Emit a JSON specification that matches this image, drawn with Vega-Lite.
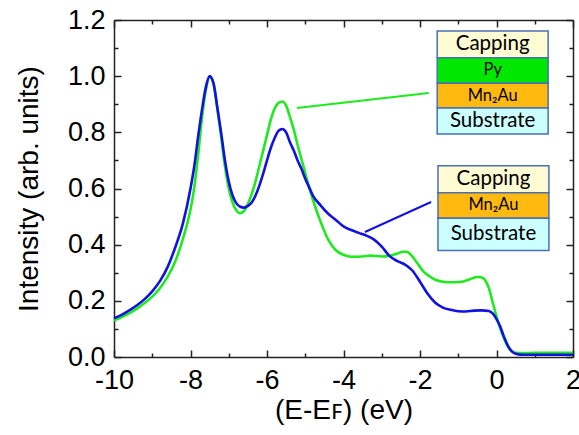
{
  "$schema": "https://vega.github.io/schema/vega-lite/v6.json",
  "width": 459,
  "height": 337,
  "autosize": {"type": "none"},
  "padding": {"left": 114, "top": 20, "right": 6, "bottom": 78},
  "background": "white",
  "config": {
    "view": {"stroke": null},
    "axis": {
      "labelFont": "Liberation Sans",
      "titleFont": "Liberation Sans",
      "labelFontSize": 27,
      "titleFontSize": 28,
      "titleFontWeight": "normal",
      "labelColor": "black",
      "titleColor": "black",
      "domainColor": "#222222",
      "tickColor": "#222222",
      "domainWidth": 1.5,
      "tickWidth": 1.5,
      "grid": false
    }
  },
  "datasets": {
    "spectra": [
      {"s": "green", "x": -10.0, "y": 0.130}, {"s": "green", "x": -9.8, "y": 0.142}, {"s": "green", "x": -9.6, "y": 0.155},
      {"s": "green", "x": -9.4, "y": 0.172}, {"s": "green", "x": -9.2, "y": 0.192}, {"s": "green", "x": -9.0, "y": 0.215},
      {"s": "green", "x": -8.8, "y": 0.245}, {"s": "green", "x": -8.6, "y": 0.285}, {"s": "green", "x": -8.4, "y": 0.34},
      {"s": "green", "x": -8.2, "y": 0.42}, {"s": "green", "x": -8.0, "y": 0.525}, {"s": "green", "x": -7.9, "y": 0.605},
      {"s": "green", "x": -7.8, "y": 0.72}, {"s": "green", "x": -7.7, "y": 0.85}, {"s": "green", "x": -7.6, "y": 0.95},
      {"s": "green", "x": -7.5, "y": 0.997}, {"s": "green", "x": -7.4, "y": 0.975}, {"s": "green", "x": -7.3, "y": 0.885},
      {"s": "green", "x": -7.2, "y": 0.785}, {"s": "green", "x": -7.1, "y": 0.68}, {"s": "green", "x": -7.0, "y": 0.6},
      {"s": "green", "x": -6.9, "y": 0.55}, {"s": "green", "x": -6.8, "y": 0.522}, {"s": "green", "x": -6.7, "y": 0.512},
      {"s": "green", "x": -6.6, "y": 0.52}, {"s": "green", "x": -6.5, "y": 0.545}, {"s": "green", "x": -6.4, "y": 0.58},
      {"s": "green", "x": -6.3, "y": 0.625}, {"s": "green", "x": -6.2, "y": 0.68}, {"s": "green", "x": -6.1, "y": 0.735},
      {"s": "green", "x": -6.0, "y": 0.79}, {"s": "green", "x": -5.9, "y": 0.845}, {"s": "green", "x": -5.8, "y": 0.885},
      {"s": "green", "x": -5.7, "y": 0.905}, {"s": "green", "x": -5.6, "y": 0.91}, {"s": "green", "x": -5.5, "y": 0.895},
      {"s": "green", "x": -5.4, "y": 0.855}, {"s": "green", "x": -5.3, "y": 0.81}, {"s": "green", "x": -5.2, "y": 0.755},
      {"s": "green", "x": -5.1, "y": 0.705}, {"s": "green", "x": -5.0, "y": 0.655}, {"s": "green", "x": -4.9, "y": 0.605},
      {"s": "green", "x": -4.8, "y": 0.56}, {"s": "green", "x": -4.6, "y": 0.482}, {"s": "green", "x": -4.4, "y": 0.418},
      {"s": "green", "x": -4.2, "y": 0.38}, {"s": "green", "x": -4.0, "y": 0.364}, {"s": "green", "x": -3.8, "y": 0.357},
      {"s": "green", "x": -3.5, "y": 0.358}, {"s": "green", "x": -3.3, "y": 0.361}, {"s": "green", "x": -3.0, "y": 0.358},
      {"s": "green", "x": -2.8, "y": 0.36}, {"s": "green", "x": -2.6, "y": 0.368}, {"s": "green", "x": -2.45, "y": 0.375},
      {"s": "green", "x": -2.35, "y": 0.375}, {"s": "green", "x": -2.2, "y": 0.358}, {"s": "green", "x": -2.05, "y": 0.33},
      {"s": "green", "x": -1.9, "y": 0.303}, {"s": "green", "x": -1.8, "y": 0.292}, {"s": "green", "x": -1.6, "y": 0.275},
      {"s": "green", "x": -1.4, "y": 0.268}, {"s": "green", "x": -1.2, "y": 0.266}, {"s": "green", "x": -0.9, "y": 0.268},
      {"s": "green", "x": -0.7, "y": 0.277}, {"s": "green", "x": -0.5, "y": 0.285}, {"s": "green", "x": -0.4, "y": 0.284},
      {"s": "green", "x": -0.3, "y": 0.274}, {"s": "green", "x": -0.2, "y": 0.245}, {"s": "green", "x": -0.1, "y": 0.195},
      {"s": "green", "x": 0.0, "y": 0.145}, {"s": "green", "x": 0.1, "y": 0.1}, {"s": "green", "x": 0.2, "y": 0.065},
      {"s": "green", "x": 0.3, "y": 0.036}, {"s": "green", "x": 0.4, "y": 0.021}, {"s": "green", "x": 0.5, "y": 0.015},
      {"s": "green", "x": 0.7, "y": 0.014}, {"s": "green", "x": 1.0, "y": 0.015}, {"s": "green", "x": 2.0, "y": 0.015},

      {"s": "blue", "x": -10.0, "y": 0.138}, {"s": "blue", "x": -9.8, "y": 0.150}, {"s": "blue", "x": -9.6, "y": 0.166},
      {"s": "blue", "x": -9.4, "y": 0.184}, {"s": "blue", "x": -9.2, "y": 0.206}, {"s": "blue", "x": -9.0, "y": 0.234},
      {"s": "blue", "x": -8.8, "y": 0.27}, {"s": "blue", "x": -8.6, "y": 0.32}, {"s": "blue", "x": -8.4, "y": 0.39},
      {"s": "blue", "x": -8.2, "y": 0.475}, {"s": "blue", "x": -8.0, "y": 0.6}, {"s": "blue", "x": -7.9, "y": 0.68},
      {"s": "blue", "x": -7.8, "y": 0.785}, {"s": "blue", "x": -7.7, "y": 0.88}, {"s": "blue", "x": -7.6, "y": 0.96},
      {"s": "blue", "x": -7.5, "y": 1.0}, {"s": "blue", "x": -7.4, "y": 0.975}, {"s": "blue", "x": -7.3, "y": 0.89},
      {"s": "blue", "x": -7.2, "y": 0.8}, {"s": "blue", "x": -7.1, "y": 0.7}, {"s": "blue", "x": -7.0, "y": 0.625},
      {"s": "blue", "x": -6.9, "y": 0.575}, {"s": "blue", "x": -6.8, "y": 0.547}, {"s": "blue", "x": -6.7, "y": 0.535},
      {"s": "blue", "x": -6.6, "y": 0.532}, {"s": "blue", "x": -6.5, "y": 0.538}, {"s": "blue", "x": -6.4, "y": 0.55},
      {"s": "blue", "x": -6.3, "y": 0.575}, {"s": "blue", "x": -6.2, "y": 0.61}, {"s": "blue", "x": -6.1, "y": 0.653},
      {"s": "blue", "x": -6.0, "y": 0.7}, {"s": "blue", "x": -5.9, "y": 0.745}, {"s": "blue", "x": -5.8, "y": 0.78},
      {"s": "blue", "x": -5.7, "y": 0.805}, {"s": "blue", "x": -5.6, "y": 0.812}, {"s": "blue", "x": -5.5, "y": 0.8},
      {"s": "blue", "x": -5.4, "y": 0.765}, {"s": "blue", "x": -5.3, "y": 0.735}, {"s": "blue", "x": -5.2, "y": 0.7},
      {"s": "blue", "x": -5.1, "y": 0.67}, {"s": "blue", "x": -5.0, "y": 0.635}, {"s": "blue", "x": -4.9, "y": 0.605},
      {"s": "blue", "x": -4.8, "y": 0.575}, {"s": "blue", "x": -4.6, "y": 0.54}, {"s": "blue", "x": -4.4, "y": 0.51},
      {"s": "blue", "x": -4.2, "y": 0.488}, {"s": "blue", "x": -4.0, "y": 0.465}, {"s": "blue", "x": -3.8, "y": 0.452},
      {"s": "blue", "x": -3.6, "y": 0.442}, {"s": "blue", "x": -3.4, "y": 0.432}, {"s": "blue", "x": -3.2, "y": 0.418},
      {"s": "blue", "x": -3.0, "y": 0.393}, {"s": "blue", "x": -2.8, "y": 0.36}, {"s": "blue", "x": -2.6, "y": 0.342},
      {"s": "blue", "x": -2.4, "y": 0.33}, {"s": "blue", "x": -2.2, "y": 0.308}, {"s": "blue", "x": -2.0, "y": 0.268},
      {"s": "blue", "x": -1.8, "y": 0.225}, {"s": "blue", "x": -1.6, "y": 0.193}, {"s": "blue", "x": -1.4, "y": 0.176},
      {"s": "blue", "x": -1.2, "y": 0.168}, {"s": "blue", "x": -1.0, "y": 0.163}, {"s": "blue", "x": -0.8, "y": 0.162},
      {"s": "blue", "x": -0.6, "y": 0.165}, {"s": "blue", "x": -0.4, "y": 0.166}, {"s": "blue", "x": -0.2, "y": 0.164},
      {"s": "blue", "x": -0.1, "y": 0.155}, {"s": "blue", "x": 0.0, "y": 0.135}, {"s": "blue", "x": 0.1, "y": 0.108},
      {"s": "blue", "x": 0.2, "y": 0.07}, {"s": "blue", "x": 0.3, "y": 0.04}, {"s": "blue", "x": 0.4, "y": 0.02},
      {"s": "blue", "x": 0.5, "y": 0.012}, {"s": "blue", "x": 0.7, "y": 0.008}, {"s": "blue", "x": 1.0, "y": 0.008},
      {"s": "blue", "x": 2.0, "y": 0.008}
    ],
    "stack": [
      {"box": 1, "layer": "Capping", "label": "Capping", "x": -1.55, "x2": 1.35, "y": 1.066, "y2": 1.161},
      {"box": 1, "layer": "Py", "label": "Py", "x": -1.55, "x2": 1.35, "y": 0.975, "y2": 1.066},
      {"box": 1, "layer": "Mn2Au", "label": "Mn₂Au", "x": -1.55, "x2": 1.35, "y": 0.887, "y2": 0.975},
      {"box": 1, "layer": "Substrate", "label": "Substrate", "x": -1.55, "x2": 1.35, "y": 0.794, "y2": 0.887},
      {"box": 2, "layer": "Capping", "label": "Capping", "x": -1.53, "x2": 1.37, "y": 0.585, "y2": 0.681},
      {"box": 2, "layer": "Mn2Au", "label": "Mn₂Au", "x": -1.53, "x2": 1.37, "y": 0.494, "y2": 0.585},
      {"box": 2, "layer": "Substrate", "label": "Substrate", "x": -1.53, "x2": 1.37, "y": 0.379, "y2": 0.494}
    ],
    "leaders": [
      {"s": "green", "x": -5.22, "y": 0.887, "x2": -1.77, "y2": 0.94},
      {"s": "blue", "x": -3.44, "y": 0.445, "x2": -1.71, "y2": 0.552}
    ]
  },
  "layer": [
    {
      "layer": [
        {
          "data": {"name": "spectra"},
          "transform": [{"filter": "datum.s === 'green'"}],
          "mark": {"type": "line", "color": "#1EEB1E", "strokeWidth": 2.6, "interpolate": "monotone"},
          "encoding": {
            "x": {"field": "x", "type": "quantitative"},
            "y": {"field": "y", "type": "quantitative"}
          }
        },
        {
          "data": {"name": "spectra"},
          "transform": [{"filter": "datum.s === 'blue'"}],
          "mark": {"type": "line", "color": "#1212E0", "strokeWidth": 2.6, "interpolate": "monotone"},
          "encoding": {
            "x": {"field": "x", "type": "quantitative"},
            "y": {"field": "y", "type": "quantitative"}
          }
        },
        {
          "data": {"name": "leaders"},
          "transform": [{"filter": "datum.s === 'green'"}],
          "mark": {"type": "rule", "color": "#1EEB1E", "strokeWidth": 2},
          "encoding": {
            "x": {"field": "x", "type": "quantitative"},
            "y": {"field": "y", "type": "quantitative"},
            "x2": {"field": "x2"},
            "y2": {"field": "y2"}
          }
        },
        {
          "data": {"name": "leaders"},
          "transform": [{"filter": "datum.s === 'blue'"}],
          "mark": {"type": "rule", "color": "#1212E0", "strokeWidth": 2},
          "encoding": {
            "x": {"field": "x", "type": "quantitative"},
            "y": {"field": "y", "type": "quantitative"},
            "x2": {"field": "x2"},
            "y2": {"field": "y2"}
          }
        },
        {
          "data": {"name": "stack"},
          "mark": {"type": "rect", "stroke": "#4A6FB5", "strokeWidth": 1.5},
          "encoding": {
            "x": {"field": "x", "type": "quantitative"},
            "x2": {"field": "x2"},
            "y": {"field": "y", "type": "quantitative"},
            "y2": {"field": "y2"},
            "fill": {
              "field": "layer", "type": "nominal", "legend": null,
              "scale": {"domain": ["Capping", "Py", "Mn2Au", "Substrate"], "range": ["#FFFBD2", "#00E800", "#FFB90F", "#CCFFFF"]}
            }
          }
        },
        {
          "data": {"name": "stack"},
          "transform": [
            {"filter": "datum.layer === 'Capping' || datum.layer === 'Substrate'"},
            {"calculate": "(datum.x + datum.x2) / 2", "as": "xm"},
            {"calculate": "(datum.y + datum.y2) / 2", "as": "ym"}
          ],
          "mark": {"type": "text", "font": "Lato", "fontSize": 20.5, "color": "black", "align": "center", "baseline": "middle"},
          "encoding": {
            "x": {"field": "xm", "type": "quantitative"},
            "y": {"field": "ym", "type": "quantitative"},
            "text": {"field": "label"}
          }
        },
        {
          "data": {"name": "stack"},
          "transform": [
            {"filter": "datum.layer === 'Py' || datum.layer === 'Mn2Au'"},
            {"calculate": "(datum.x + datum.x2) / 2", "as": "xm"},
            {"calculate": "(datum.y + datum.y2) / 2", "as": "ym"}
          ],
          "mark": {"type": "text", "font": "Lato", "fontSize": 16.5, "color": "black", "align": "center", "baseline": "middle"},
          "encoding": {
            "x": {"field": "xm", "type": "quantitative"},
            "y": {"field": "ym", "type": "quantitative"},
            "text": {"field": "label"}
          }
        }
      ],
      "encoding": {
        "x": {
          "field": "x", "type": "quantitative",
          "scale": {"domain": [-10, 2], "nice": false, "zero": false},
          "axis": {
            "orient": "bottom",
            "title": "(E-Eꜰ) (eV)",
            "values": [-10, -8, -6, -4, -2, 0, 2],
            "labelExpr": "(datum.value < 0 ? '-' : '') + abs(datum.value)",
            "tickSize": -7,
            "labelPadding": 17,
            "titlePadding": 3,
            "labelFlush": false
          }
        },
        "y": {
          "field": "y", "type": "quantitative",
          "scale": {"domain": [0, 1.2], "nice": false, "zero": false},
          "axis": {
            "orient": "left",
            "title": "Intensity (arb. units)",
            "values": [0, 0.2, 0.4, 0.6, 0.8, 1.0, 1.2],
            "format": ".1f",
            "tickSize": -7,
            "labelPadding": 16,
            "titlePadding": 24,
            "labelFlush": false
          }
        }
      }
    },
    {
      "data": {"name": "spectra"},
      "mark": {"type": "point", "opacity": 0},
      "encoding": {
        "x": {
          "field": "x", "type": "quantitative",
          "scale": {"domain": [-10, 2], "nice": false, "zero": false},
          "axis": {"orient": "top", "title": null, "labels": false, "values": [-10, -8, -6, -4, -2, 0, 2], "tickSize": -7}
        },
        "y": {
          "field": "y", "type": "quantitative",
          "scale": {"domain": [0, 1.2], "nice": false, "zero": false},
          "axis": {"orient": "right", "title": null, "labels": false, "values": [0, 0.2, 0.4, 0.6, 0.8, 1.0, 1.2], "tickSize": -7}
        }
      }
    },
    {
      "data": {"name": "spectra"},
      "mark": {"type": "point", "opacity": 0},
      "encoding": {
        "x": {
          "field": "x", "type": "quantitative",
          "scale": {"domain": [-10, 2], "nice": false, "zero": false},
          "axis": {"orient": "bottom", "title": null, "labels": false, "domain": false, "values": [-9, -7, -5, -3, -1, 1], "tickSize": -4}
        },
        "y": {
          "field": "y", "type": "quantitative",
          "scale": {"domain": [0, 1.2], "nice": false, "zero": false},
          "axis": {"orient": "left", "title": null, "labels": false, "domain": false, "values": [0.1, 0.3, 0.5, 0.7, 0.9, 1.1], "tickSize": -4}
        }
      }
    },
    {
      "data": {"name": "spectra"},
      "mark": {"type": "point", "opacity": 0},
      "encoding": {
        "x": {
          "field": "x", "type": "quantitative",
          "scale": {"domain": [-10, 2], "nice": false, "zero": false},
          "axis": {"orient": "top", "title": null, "labels": false, "domain": false, "values": [-9, -7, -5, -3, -1, 1], "tickSize": -4}
        },
        "y": {
          "field": "y", "type": "quantitative",
          "scale": {"domain": [0, 1.2], "nice": false, "zero": false},
          "axis": {"orient": "right", "title": null, "labels": false, "domain": false, "values": [0.1, 0.3, 0.5, 0.7, 0.9, 1.1], "tickSize": -4}
        }
      }
    }
  ],
  "resolve": {"scale": {"x": "independent", "y": "independent"}}
}
